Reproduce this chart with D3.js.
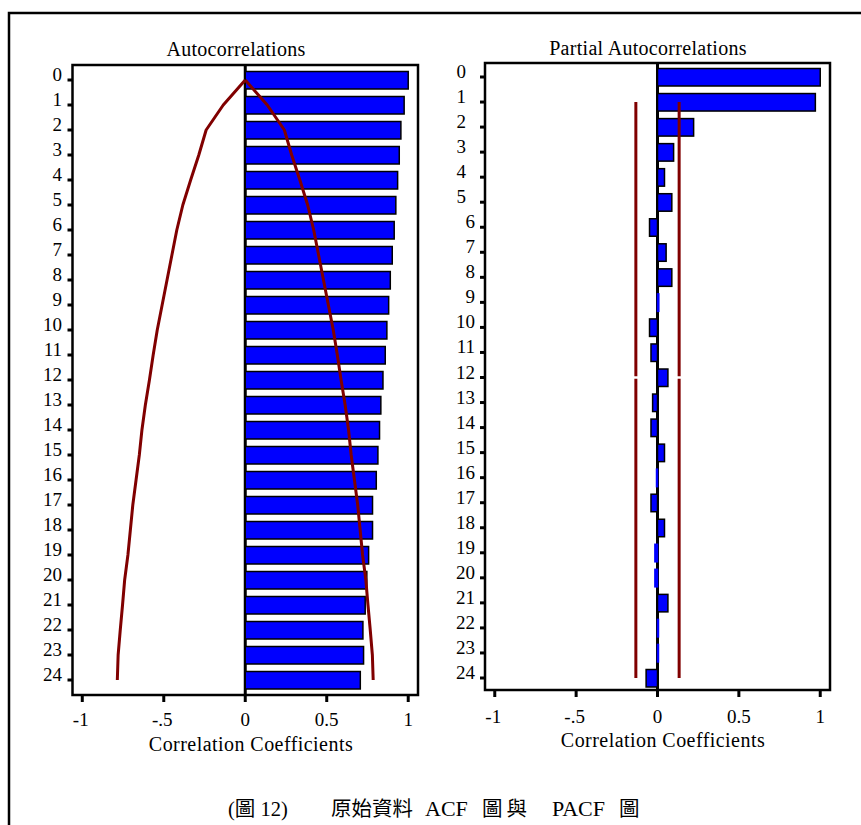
<!DOCTYPE html>
<html>
<head>
<meta charset="utf-8">
<script src="https://cdn.jsdelivr.net/npm/d3@7/dist/d3.min.js"></script>
<style>
  html, body { margin: 0; padding: 0; background: #fff; }
  svg { display: block; }
  text { font-family: "Liberation Serif", "Times New Roman", serif; fill: #000; }
</style>
</head>
<body>
<svg id="chart" width="861" height="825"></svg>
<script>
// ---------------- DATA ----------------
const lags = d3.range(0, 25);
const acfValues = [1.0, 0.975, 0.955, 0.945, 0.935, 0.924, 0.914, 0.902, 0.89, 0.88,
                   0.869, 0.859, 0.845, 0.832, 0.824, 0.814, 0.804, 0.781, 0.781, 0.757,
                   0.746, 0.736, 0.722, 0.726, 0.706];
const acfBand = [0, 0.135, 0.24, 0.285, 0.335, 0.383, 0.42, 0.45, 0.48, 0.51,
                 0.54, 0.565, 0.588, 0.613, 0.634, 0.65, 0.67, 0.69, 0.705, 0.72,
                 0.74, 0.753, 0.767, 0.78, 0.785];
const pacfValues = [1.0, 0.97, 0.222, 0.099, 0.043, 0.088, -0.049, 0.053, 0.088, 0.008,
                    -0.049, -0.04, 0.064, -0.03, -0.04, 0.043, -0.006, -0.04, 0.043, -0.016,
                    -0.016, 0.064, 0.006, 0.006, -0.07];
const pacfBand = [0.133];
const pacfBandSegments = [[1, 11.95], [12.05, 24]];
const xTickValues = [-1, -0.5, 0, 0.5, 1];
const xTickLabels = ["-1", "-.5", "0", "0.5", "1"];
const panelTitles = ["Autocorrelations", "Partial Autocorrelations"];
const axisTitle = "Correlation Coefficients";
const captionParts = ["(圖 12)", "原始資料", "ACF", "圖與", "PACF", "圖"];

// ---------------- DRAW ----------------
const svg = d3.select("#chart");

// outer frame
svg.append("rect")
  .attr("x", 9).attr("y", 13).attr("width", 900).attr("height", 900)
  .attr("fill", "none").attr("stroke", "#000").attr("stroke-width", 2.5);

const BLUE = "#0000ff", RED = "#800000";

function drawPanel(cfg) {
  const g = svg.append("g");
  const x = d3.scaleLinear().domain([-1.06, 1.06]).range([cfg.left, cfg.right]);
  const y = d3.scaleLinear().domain([0, 24]).range([cfg.y0, cfg.y24]);

  // zero line
  g.append("line")
    .attr("x1", x(0)).attr("x2", x(0))
    .attr("y1", cfg.top).attr("y2", cfg.bottom)
    .attr("stroke", "#000").attr("stroke-width", 3);

  // bars
  g.selectAll("rect.bar").data(cfg.values).join("rect")
    .attr("class", "bar")
    .attr("x", d => x(Math.min(0, d)))
    .attr("width", d => Math.abs(x(d) - x(0)))
    .attr("y", (d, i) => y(lags[i]) - 8.5)
    .attr("height", 17.5)
    .attr("fill", BLUE)
    .attr("stroke", d => Math.abs(d) < 0.025 ? BLUE : "#000")
    .attr("stroke-width", 1.5);

  // confidence bands
  cfg.drawBand(g, x, y);

  // frame
  g.append("rect")
    .attr("x", cfg.left).attr("y", cfg.top)
    .attr("width", cfg.right - cfg.left).attr("height", cfg.bottom - cfg.top)
    .attr("fill", "none").attr("stroke", "#000").attr("stroke-width", 2.5);

  // y ticks (lags)
  g.selectAll("line.ytick").data(lags).join("line")
    .attr("class", "ytick")
    .attr("x1", cfg.left - 5).attr("x2", cfg.left)
    .attr("y1", d => y(d)).attr("y2", d => y(d))
    .attr("stroke", "#000").attr("stroke-width", 3);
  g.selectAll("text.ylab").data(lags).join("text")
    .attr("class", "ylab")
    .attr("x", d => cfg.labelX(d))
    .attr("y", d => y(d) + 1)
    .attr("text-anchor", "end")
    .attr("font-size", 19)
    .text(d => String(d));

  // x axis ticks
  g.selectAll("line.xtick").data(xTickValues).join("line")
    .attr("class", "xtick")
    .attr("x1", d => x(d)).attr("x2", d => x(d))
    .attr("y1", cfg.bottom).attr("y2", cfg.bottom + 7)
    .attr("stroke", "#000").attr("stroke-width", 3);
  g.selectAll("text.xlab").data(xTickValues).join("text")
    .attr("class", "xlab")
    .attr("x", d => x(d) - (d < 0 ? 1.5 : 0))
    .attr("y", cfg.xLabelY)
    .attr("text-anchor", "middle")
    .attr("font-size", 19)
    .text((d, i) => xTickLabels[i]);

  // titles
  g.append("text")
    .attr("x", cfg.titleX).attr("y", cfg.titleY)
    .attr("text-anchor", "middle").attr("font-size", 20)
    .attr("letter-spacing", 0.3)
    .text(cfg.title);
  g.append("text")
    .attr("x", cfg.axisTitleX).attr("y", cfg.axisTitleY)
    .attr("text-anchor", "middle").attr("font-size", 20)
    .attr("letter-spacing", 0.45)
    .text(axisTitle);
}

const lineGen = (x, y) => d3.line().x(d => x(d.v)).y(d => y(d.lag));

drawPanel({
  left: 72.5, right: 418, top: 65, bottom: 695,
  y0: 80, y24: 680,
  values: acfValues,
  labelX: d => 62,
  xLabelY: 726,
  title: panelTitles[0], titleX: 236, titleY: 56,
  axisTitleX: 251, axisTitleY: 751,
  drawBand: (g, x, y) => {
    const up = lags.map((l, i) => ({ lag: l, v: acfBand[i] }));
    const dn = lags.map((l, i) => ({ lag: l, v: -acfBand[i] }));
    [up, dn].forEach(pts => {
      g.append("path").attr("d", lineGen(x, y)(pts))
        .attr("fill", "none").attr("stroke", RED).attr("stroke-width", 3)
        .attr("stroke-linejoin", "round");
    });
  }
});

drawPanel({
  left: 485, right: 830, top: 63, bottom: 690,
  y0: 77, y24: 678,
  values: pacfValues,
  labelX: d => d <= 5 ? 466 : 475,
  xLabelY: 723,
  title: panelTitles[1], titleX: 648, titleY: 55,
  axisTitleX: 663, axisTitleY: 747,
  drawBand: (g, x, y) => {
    [pacfBand[0], -pacfBand[0]].forEach(b => {
      pacfBandSegments.forEach(seg => {
        const pts = [{ lag: seg[0], v: b }, { lag: seg[1], v: b }];
        g.append("path").attr("d", lineGen(x, y)(pts))
          .attr("fill", "none").attr("stroke", RED).attr("stroke-width", 3);
      });
    });
  }
});

// caption
const capX = [228, 331, 425, 482, 552, 619];
const cap = svg.append("text")
  .attr("y", 816)
  .attr("font-size", 21)
  .style("font-family", "'Liberation Serif', 'Noto Sans CJK TC', serif");
cap.selectAll("tspan").data(captionParts).join("tspan")
  .attr("x", (d, i) => capX[i])
  .attr("font-size", (d, i) => (i === 2 || i === 4) ? 22 : 20.5)
  .attr("letter-spacing", (d, i) => i === 3 ? 4 : 0)
  .text(d => d);
</script>
</body>
</html>
